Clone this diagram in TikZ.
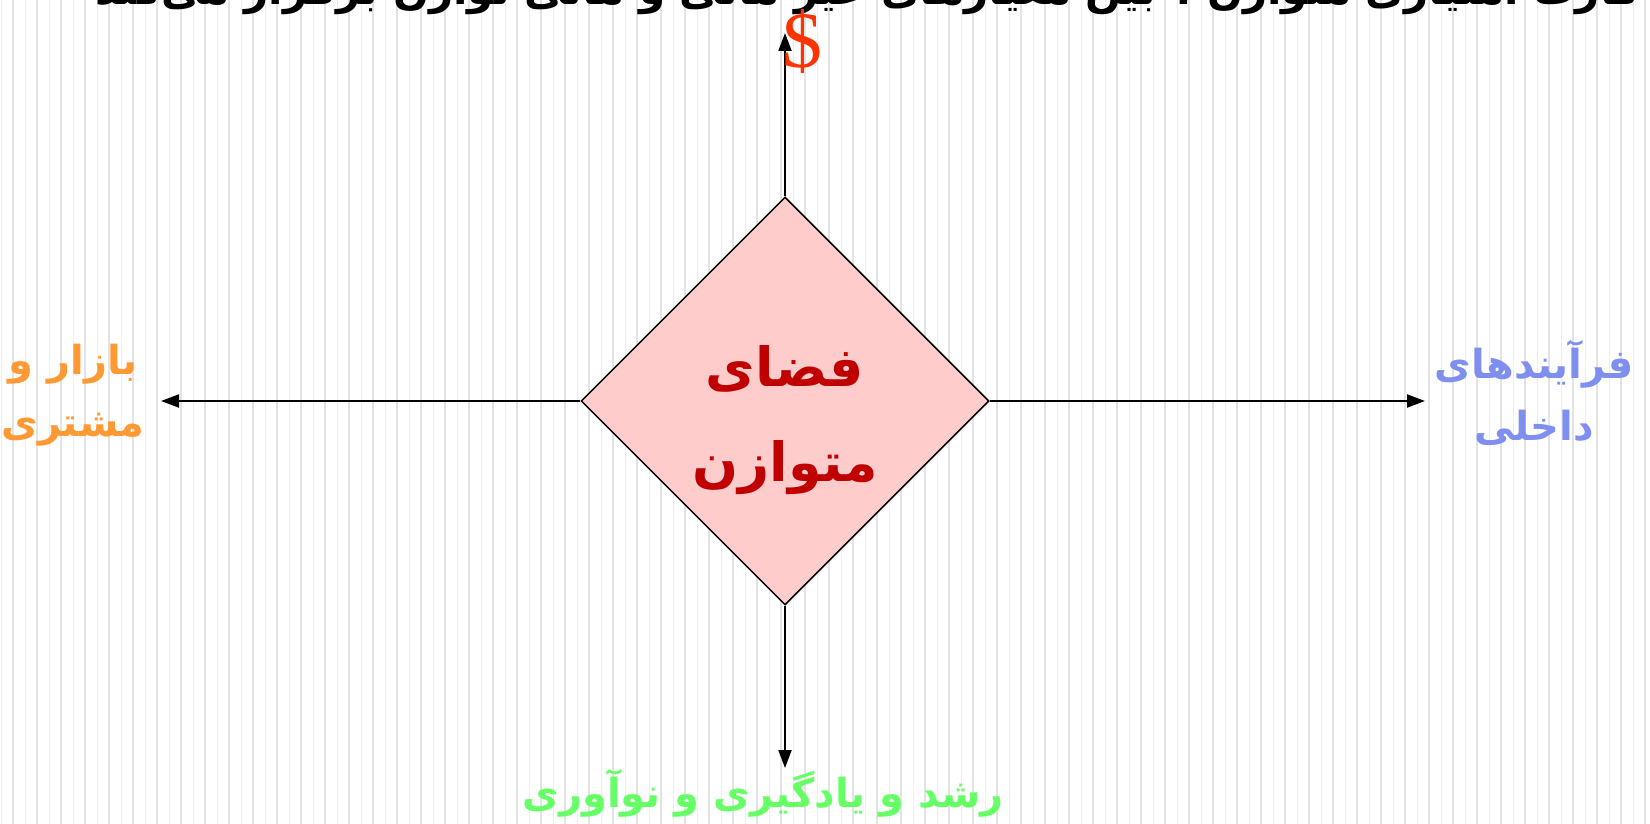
\documentclass[tikz,border=0pt]{standalone}
\usepackage{fontspec}
\usetikzlibrary{shapes.geometric,arrows.meta}
\TeXXeTstate=1
\newfontfamily\arabicfont[Script=Arabic]{DejaVu Sans}
\newfontfamily\dollarfont{Liberation Serif}
\definecolor{stripeA}{HTML}{EEEEEE}
\definecolor{stripeB}{HTML}{E3E3E3}
\definecolor{diamfill}{HTML}{FFCCCC}
\definecolor{centertxt}{HTML}{C00000}
\definecolor{orangetxt}{HTML}{FF9933}
\definecolor{bluetxt}{HTML}{7F8FEF}
\definecolor{greentxt}{HTML}{66FF66}
\definecolor{dollarred}{HTML}{FF3300}
\tikzset{
  axisarrow/.style={line width=2pt,-{Triangle[length=18pt,width=13pt]}},
  centerbox/.style={diamond,aspect=1,draw=black,line width=1.5pt,fill=diamfill,
    minimum width=408pt,minimum height=408pt,inner sep=0pt},
  centertext/.style={text=centertxt,align=center,inner sep=0pt,
    font=\arabicfont\bfseries\fontsize{54}{95}\selectfont},
  sidelabel/.style={align=center,inner sep=0pt,font=\arabicfont\bfseries\fontsize{40}{62}\selectfont},
}
\begin{document}
\begin{tikzpicture}[x=1pt,y=-1pt]
\useasboundingbox (0,0) rectangle (1650,824);
% background stripes
\foreach \i in {0,...,68}{
  \fill[stripeA] ({1+24*\i},0) rectangle ({2.2+24*\i},824);
  \fill[stripeB] ({12.4+24*\i},0) rectangle ({13.9+24*\i},824);
}
% clipped title
\node[anchor=base,inner sep=0pt,font=\arabicfont\bfseries\fontsize{42}{56}\selectfont] (title) at (868,5)
  {\beginR کارت امتیازی متوازن : بین معیارهای غیر مالی و مالی توازن برقرار می‌کند\endR};
% centre diamond
\node[centerbox] (d) at (785,401) {};
\node[centertext] (dtext) at (785,420) {\beginR فضای\endR\\ \beginR متوازن\endR};
% arrow ends
\coordinate (top) at (785,33);
\coordinate (left) at (161,401);
\coordinate (right) at (1425,401);
\coordinate (bottom) at (785,768);
\draw[axisarrow] (d.north) -- (top);
\draw[axisarrow] (d.west) -- (left);
\draw[axisarrow] (d.east) -- (right);
\draw[axisarrow] (d.south) -- (bottom);
% labels
\node[inner sep=0pt,text=dollarred,font=\dollarfont\fontsize{80}{80}\selectfont] (dollar) at (802,42) {\$};
\node[sidelabel,text=orangetxt] (market) at (73,395) {\beginR بازار و\endR\\ \beginR مشتری\endR};
\node[sidelabel,text=bluetxt] (process) at (1534,393) {\beginR فرآیندهای\endR\\ \beginR داخلی\endR};
\node[sidelabel,text=greentxt] (growth) at (763,793) {\beginR رشد و یادگیری و نوآوری\endR};
\end{tikzpicture}
\end{document}
